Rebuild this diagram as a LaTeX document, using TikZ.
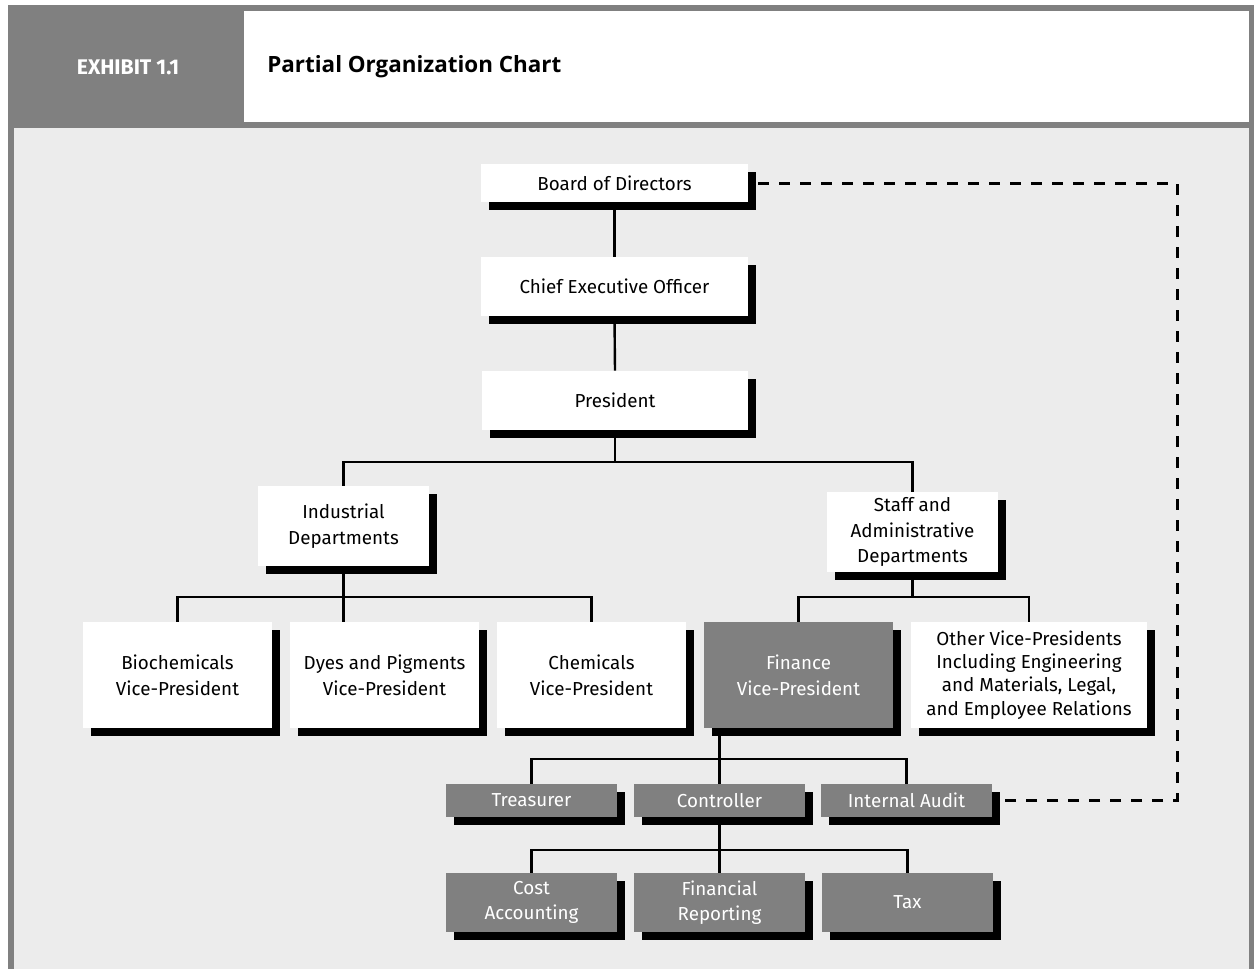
\documentclass[tikz,border=0pt]{standalone}
\usepackage{fontspec}
\setmainfont{Fira Sans}
\newfontfamily\headfont{Open Sans}
\usetikzlibrary{shadows}
\definecolor{border}{HTML}{808080}
\definecolor{panel}{HTML}{ececec}
\tikzstyle{office}=[rectangle,
                    fill=white,
                    text centered,
                    align=center,
                    inner sep=0pt,
                    font=\fontsize{9.4}{12.8}\selectfont,
                    drop shadow={shadow xshift=4pt, shadow yshift=-4pt, opacity=1, fill=black}
                   ]
\tikzstyle{finance}=[office, fill=border, text=white]
\tikzstyle{link}=[line width=1.2pt]
\tikzstyle{auditlink}=[line width=1.5pt, dash pattern=on 5.5pt off 5pt]

\begin{document}
\begin{tikzpicture}[x=0.5pt, y=-0.5pt]
  \useasboundingbox (0,0) rectangle (1254,969);
  \fill[border] (8,5) rectangle (1254,969);
  \fill[panel] (14,128) rectangle (1249,969);
  \fill[white] (244,11) rectangle (1249,122);
  \node at (128,67) (exhibit) [text=white, font=\bfseries\fontsize{10.6}{12}\selectfont] {EXHIBIT 1.1};
  \node at (267,67) (title) [anchor=west, inner sep=0pt, font=\headfont\bfseries\fontsize{11.2}{13}\selectfont] {Partial Organization Chart};

  \node at (614.5,183) (board) [office, minimum width=133.5pt, minimum height=19pt] {Board of Directors};
  \node at (614.5,286.5) (ceo) [office, minimum width=133.5pt, minimum height=29.5pt] {Chief Executive Officer};
  \node at (615,400.5) (pres) [office, minimum width=133pt, minimum height=29.5pt] {President};

  \node at (343.5,526) (ind) [office, minimum width=85.5pt, minimum height=40pt] {Industrial\\Departments};
  \node at (912.5,532) (staff) [office, minimum width=85.5pt, minimum height=40pt] {Staff and\\Administrative\\Departments};

  \node at (177.5,675) (bio) [office, minimum width=94.5pt, minimum height=53pt] {Biochemicals\\Vice-President};
  \node at (384.5,675) (dyes) [office, minimum width=94.5pt, minimum height=53pt] {Dyes and Pigments\\Vice-President};
  \node at (591.5,675) (chem) [office, minimum width=94.5pt, minimum height=53pt] {Chemicals\\Vice-President};
  \node at (798.5,675) (fin) [finance, minimum width=94.5pt, minimum height=53pt] {Finance\\Vice-President};
  \node at (1029,675) (other) [office, minimum width=118pt, minimum height=53pt, font=\fontsize{9.4}{11.6}\selectfont] {Other Vice-Presidents\\Including Engineering\\and Materials, Legal,\\and Employee Relations};

  \node at (531.5,800.5) (tres) [finance, minimum width=85.5pt, minimum height=16.5pt] {Treasurer};
  \node at (719.5,800.5) (ctrl) [finance, minimum width=85.5pt, minimum height=16.5pt] {Controller};
  \node at (906.5,800.5) (audit) [finance, minimum width=85.5pt, minimum height=16.5pt] {Internal Audit};

  \node at (531.5,902.5) (cost) [finance, minimum width=85.5pt, minimum height=29.5pt] {Cost\\Accounting};
  \node at (719.5,902.5) (frep) [finance, minimum width=85.5pt, minimum height=29.5pt] {Financial\\Reporting};
  \node at (907.5,902.5) (tax) [finance, minimum width=85.5pt, minimum height=29.5pt] {Tax};

  \coordinate (top) at (0,462);
  \coordinate (left) at (0,597);
  \coordinate (right) at (0,597);
  \coordinate (mid) at (0,759);
  \coordinate (low) at (0,850);
  \coordinate (corner) at (1177,800.5);

  \draw[link] (board.south) -- (ceo.north);
  \draw[link] (ceo.south) -- (pres.north);
  \draw[link] (pres.south) -- (pres.south |- top);
  \draw[link] (ind.north) |- (staff.north |- top) -- (staff.north);

  \draw[link] (ind.south) -- (ind.south |- dyes.north);
  \draw[link] (bio.north) |- (chem.north |- left) -- (chem.north);
  \draw[link] (staff.south) -- (staff.south |- right);
  \draw[link] (fin.north) |- (other.north |- right) -- (other.north);

  \draw[link] (fin.south -| ctrl.north) -- (ctrl.north);
  \draw[link] (tres.north) |- (audit.north |- mid) -- (audit.north);
  \draw[link] (ctrl.south) -- (frep.north);
  \draw[link] (cost.north) |- (tax.north |- low) -- (tax.north);

  \draw[auditlink] ([xshift=5pt]board.east) -| (corner) -- ([xshift=5.5pt]audit.east);
\end{tikzpicture}
\end{document}
